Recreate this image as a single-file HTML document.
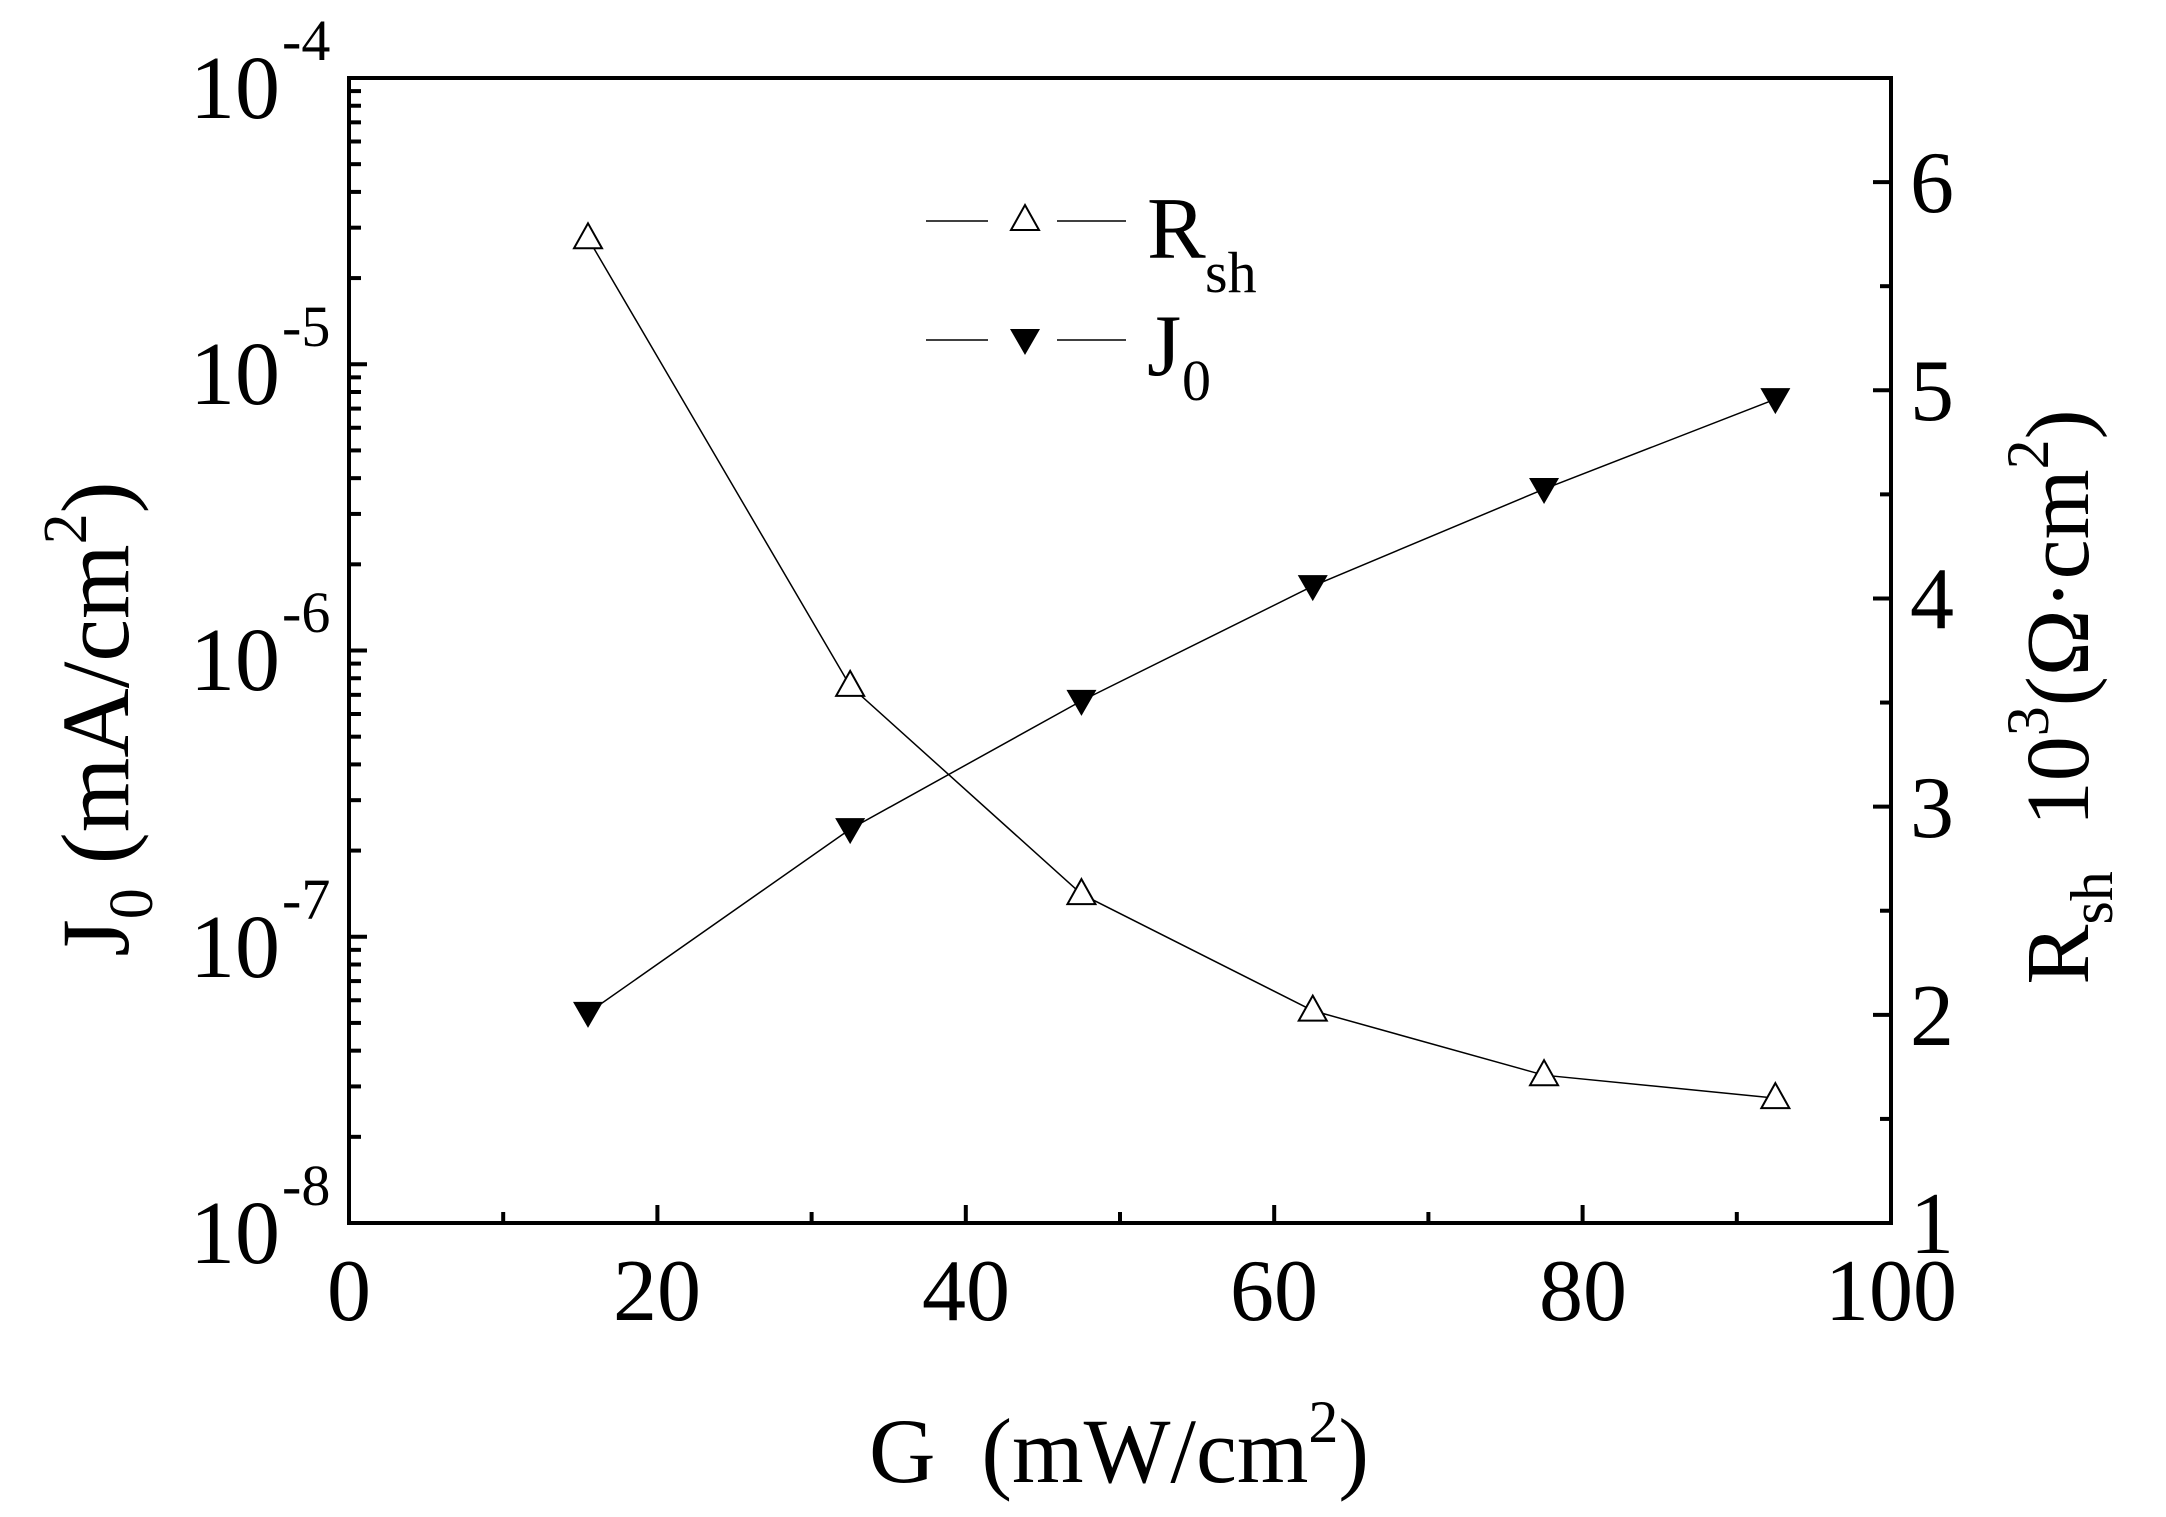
<!DOCTYPE html>
<html><head><meta charset="utf-8"><style>
html,body{margin:0;padding:0;background:#fff;}
svg{display:block;}
text{font-family:"Liberation Serif",serif;fill:#000;}
</style></head><body>
<svg id="s" width="2166" height="1517" viewBox="0 0 2166 1517" xmlns="http://www.w3.org/2000/svg">
<rect x="0" y="0" width="2166" height="1517" fill="#fff"/>
<g id="ticks" stroke="#000" stroke-width="4"></g>
<rect x="349" y="78" width="1542" height="1145" fill="none" stroke="#000" stroke-width="4"/>
<g id="data"></g>
<!-- x tick labels -->
<g font-size="88" text-anchor="middle">
<text x="349" y="1320">0</text>
<text x="657" y="1320">20</text>
<text x="966" y="1320">40</text>
<text x="1274" y="1320">60</text>
<text x="1583" y="1320">80</text>
<text x="1891" y="1320">100</text>
</g>
<!-- right tick labels -->
<g font-size="88" text-anchor="start">
<text x="1910" y="1253">1</text>
<text x="1910" y="1045">2</text>
<text x="1910" y="837">3</text>
<text x="1910" y="628">4</text>
<text x="1910" y="420">5</text>
<text x="1910" y="212">6</text>
</g>
<!-- left tick labels -->
<g font-size="90">
<text x="280" y="118" text-anchor="end">10</text><text x="282" y="60" font-size="58">-4</text>
<text x="280" y="404" text-anchor="end">10</text><text x="282" y="346" font-size="58">-5</text>
<text x="280" y="690" text-anchor="end">10</text><text x="282" y="632" font-size="58">-6</text>
<text x="280" y="977" text-anchor="end">10</text><text x="282" y="919" font-size="58">-7</text>
<text x="280" y="1263" text-anchor="end">10</text><text x="282" y="1205" font-size="58">-8</text>
</g>
<!-- axis titles -->
<text x="1119" y="1482" font-size="92" text-anchor="middle" xml:space="preserve">G  (mW/cm<tspan font-size="60" dy="-40">2</tspan><tspan dy="40">)</tspan></text>
<text transform="translate(128,719) rotate(-90)" font-size="96" text-anchor="middle">J<tspan font-size="62" dy="24">0</tspan><tspan dy="-24"> (mA/cm</tspan><tspan font-size="62" dy="-42">2</tspan><tspan dy="42">)</tspan></text>
<text transform="translate(2088,697) rotate(-90)" font-size="90" text-anchor="middle" xml:space="preserve">R<tspan font-size="60" dy="24">sh</tspan><tspan dy="-24">  10</tspan><tspan font-size="60" dy="-40">3</tspan><tspan dy="40">(Ω·cm</tspan><tspan font-size="60" dy="-40">2</tspan><tspan dy="40">)</tspan></text>
<!-- legend -->
<g stroke="#000" stroke-width="1.5">
<line x1="926" y1="221" x2="988" y2="221"/><line x1="1057" y1="221" x2="1126" y2="221"/>
<line x1="926" y1="340" x2="988" y2="340"/><line x1="1057" y1="340" x2="1126" y2="340"/>
</g>
<polygon points="1025,205 1039,230 1011,230" fill="#fff" stroke="#000" stroke-width="2"/>
<polygon points="1010,329 1040,329 1025,355" fill="#000"/>
<text x="1147" y="258" font-size="88">R</text><text x="1205" y="292" font-size="58">sh</text>
<text x="1147" y="375" font-size="88">J</text><text x="1182" y="400" font-size="58">0</text>
</svg>
<script>
var NS="http://www.w3.org/2000/svg";
function el(p,n,a){var e=document.createElementNS(NS,n);for(var k in a)e.setAttribute(k,a[k]);p.appendChild(e);return e;}
var T=document.getElementById("ticks"),D=document.getElementById("data");
var L=349,R=1891,TOP=78,B=1223;
function X(v){return L+(R-L)*v/100;}
function YL(lg){return B-(lg+8)*286.25;}
function YR(v){return B-(v-1)*208.18;}
for(var v=0;v<=100;v+=10){var len=v%20==0?18:11;el(T,"line",{x1:X(v),x2:X(v),y1:B,y2:B-len});}
for(var d=-8;d<-4;d++){el(T,"line",{x1:L,x2:L+18,y1:YL(d),y2:YL(d)});
 for(var k=2;k<=9;k++){var y=YL(d+Math.log10(k));el(T,"line",{x1:L,x2:L+12,y1:y,y2:y});}}
for(var v=1;v<=6.5;v+=0.5){var len=(v%1==0)?18:11;el(T,"line",{x1:R,x2:R-len,y1:YR(v),y2:YR(v)});}
var xs=[15.5,32.5,47.5,62.5,77.5,92.5];
var rs=[5.73,3.58,2.58,2.02,1.71,1.60];
var js=[0.734,1.376,1.824,2.225,2.564,2.878];
function poly(pts){return pts.map(function(p){return p[0]+","+p[1]}).join(" ");}
var p1=xs.map(function(x,i){return [X(x),YR(rs[i])]});
var p2=xs.map(function(x,i){return [X(x),B-js[i]*286.25]});
el(D,"polyline",{points:poly(p1),fill:"none",stroke:"#000","stroke-width":1.5});
el(D,"polyline",{points:poly(p2),fill:"none",stroke:"#000","stroke-width":1.5});
p1.forEach(function(p){el(D,"polygon",{points:(p[0])+","+(p[1]-15)+" "+(p[0]+14)+","+(p[1]+10)+" "+(p[0]-14)+","+(p[1]+10),fill:"#fff",stroke:"#000","stroke-width":2});});
p2.forEach(function(p){el(D,"polygon",{points:(p[0]-15)+","+(p[1]-11)+" "+(p[0]+15)+","+(p[1]-11)+" "+p[0]+","+(p[1]+15),fill:"#000"});});
</script>
</body></html>
